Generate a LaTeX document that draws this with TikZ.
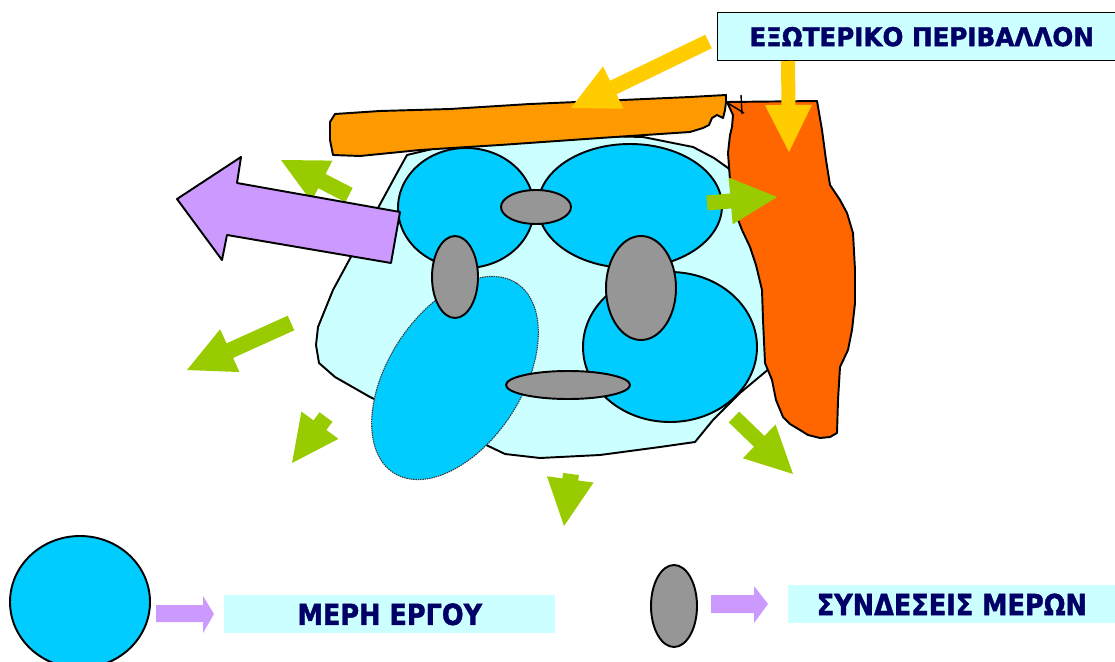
\documentclass[tikz,border=0pt]{standalone}
\usepackage{fontspec}
\newfontfamily\lab{DejaVu Sans}[BoldFont={DejaVu Sans Bold},BoldFeatures={FakeBold=1.6}]
\usetikzlibrary{calc}
\definecolor{cyanl}{HTML}{CCFFFF}
\definecolor{bluep}{HTML}{00CCFF}
\definecolor{grayp}{HTML}{969696}
\definecolor{orangep}{HTML}{FF9900}
\definecolor{redp}{HTML}{FF6600}
\definecolor{yellowp}{HTML}{FFCC00}
\definecolor{greenp}{HTML}{99CC00}
\definecolor{purplep}{HTML}{CC99FF}
\definecolor{navyp}{HTML}{000066}
\newcommand{\fatarrow}[6]{%
  \coordinate (faS) at (#2);
  \coordinate (faT) at (#3);
  \coordinate (faB) at ($(faT)!#6!(faS)$);
  \fill[#1] (faT) -- ($(faB)!#5!90:(faT)$) -- ($(faB)!#4!90:(faT)$) -- ($(faS)!#4!90:(faT)$)
    -- ($(faS)!#4!-90:(faT)$) -- ($(faB)!#4!-90:(faT)$) -- ($(faB)!#5!-90:(faT)$) -- cycle;}
\begin{document}
\begin{tikzpicture}[x=0.02cm,y=-0.02cm,
  outl/.style={draw=black,line width=1.1pt,line join=round},
  part/.style={outl,fill=bluep},
  link/.style={outl,fill=grayp},
  labtxt/.style={text=navyp},
  legbox/.style={fill=cyanl,inner sep=0pt,anchor=north west}]
\useasboundingbox (0,0) rectangle (1115,662);
\clip (0,0) rectangle (1115,662);
% project body
\draw[outl,fill=cyanl] (407,155) -- (397,173) -- (378,208) -- (353,253) -- (333,290) -- (318,327)
  -- (316,345) -- (319,363) -- (335,377) -- (370,397) -- (420,420) -- (482,443) -- (505,454) -- (540,458)
  -- (600,455) -- (660,447) -- (695,442) -- (713,420) -- (740,393) -- (770,368) -- (775,300)
  -- (760,200) -- (728,168) -- (714,158) -- (693,147) -- (643,137) -- (560,135) -- (470,140) -- cycle;
% parts
\draw[part] (466,208) ellipse [x radius=68, y radius=60];
\draw[part] (630,206) ellipse [x radius=92, y radius=62];
\draw[part] (670,347) ellipse [x radius=87, y radius=75];
\draw[fill=bluep,draw=black!80,line width=0.6pt,dash pattern=on 0.8pt off 0.5pt,rotate around={57:(455,378)}]
  (455,378) ellipse [x radius=113, y radius=67];
% links
\draw[link] (536,207) ellipse [x radius=35, y radius=17];
\draw[link] (455,277) ellipse [x radius=23, y radius=41];
\draw[link] (641,288) ellipse [x radius=35, y radius=52];
\draw[link] (568,385) ellipse [x radius=62, y radius=14];
% orange bar
\draw[outl,fill=orangep] (335,114) -- (380,111) -- (450,109) -- (530,104) -- (600,101) -- (690,97)
  -- (726,95) -- (726,102) -- (725,110) -- (723,118) -- (717,115) -- (712,118) -- (709,125) -- (703,128)
  -- (690,132) -- (600,138) -- (500,145) -- (420,150) -- (360,156) -- (333,155) -- (330,140) -- (330,122) -- cycle;
% red environment
\draw[outl,fill=redp] (727,102) -- (817,101) -- (822,130) -- (826,160) -- (830,185) -- (840,200)
  -- (847,213) -- (853,233) -- (855,270) -- (855,303) -- (852,330) -- (848,350) -- (840,367)
  -- (838,400) -- (837,433) -- (830,437) -- (820,438) -- (808,435) -- (800,430) -- (790,424)
  -- (783,417) -- (776,400) -- (772,380) -- (765,363) -- (763,320) -- (762,290) -- (756,265)
  -- (750,247) -- (742,230) -- (737,217) -- (733,200) -- (730,180) -- (728,153) -- (730,135)
  -- (732,127) -- (733,115) -- cycle;
\draw[line width=0.8pt] (741,95) -- (742,114);
\draw[line width=0.8pt] (726,102) -- (744,113);
% green arrows
\fatarrow{greenp}{349,195}{281,160}{0.16cm}{0.46cm}{0.92cm}
\fatarrow{greenp}{291,323}{187,370}{0.16cm}{0.47cm}{0.94cm}
\fatarrow{greenp}{326,417}{292,463}{0.16cm}{0.46cm}{0.94cm}
\fatarrow{greenp}{571,474}{564,526}{0.16cm}{0.47cm}{0.94cm}
\fatarrow{greenp}{734,417}{793,474}{0.15cm}{0.47cm}{0.94cm}
\fatarrow{greenp}{707,203}{777,197}{0.15cm}{0.47cm}{0.93cm}
% purple arrow
\draw[outl,fill=purplep] (177,199) -- (241,157) -- (237,183) -- (400,212) -- (391,263) -- (227,235) -- (222,260) -- cycle;
% environment label
\node[draw=black,line width=0.8pt,fill=cyanl,minimum width=8.16cm,minimum height=0.96cm,anchor=north west,inner sep=0pt,
  labtxt,font=\lab\bfseries\fontsize{14}{16}\selectfont] (env) at (717,12) {\scalebox{1.0}[1.05]{ΕΞΩΤΕΡΙΚΟ ΠΕΡΙΒΑΛΛΟΝ}};
% yellow arrows
\fatarrow{yellowp}{708.5,41.5}{571,108}{0.15cm}{0.47cm}{0.94cm}
\fatarrow{yellowp}{788,61}{789,152}{0.14cm}{0.47cm}{0.94cm}
% legend
\draw[part] (80,602) ellipse [x radius=70, y radius=66];
\fill[purplep] (156,605) -- (203,605) -- (203,596) -- (214,614) -- (203,633) -- (203,622) -- (156,622) -- cycle;
\node[legbox,minimum width=6.62cm,minimum height=0.76cm,labtxt,font=\lab\bfseries\fontsize{15}{17}\selectfont] (parts) at (224,595) {\raisebox{-1pt}{\scalebox{0.97}[1.1]{ΜΕΡΗ ΕΡΓΟΥ}}};
\draw[link] (674,606) ellipse [x radius=23, y radius=41];
\fill[purplep] (711,595) -- (754,595) -- (754,586) -- (768,604) -- (754,623) -- (754,613) -- (711,613) -- cycle;
\node[legbox,minimum width=6.54cm,minimum height=0.76cm,labtxt,font=\lab\bfseries\fontsize{15}{17}\selectfont] (links) at (788,585) {\scalebox{0.97}[1.1]{ΣΥΝΔΕΣΕΙΣ ΜΕΡΩΝ}};
\end{tikzpicture}
\end{document}
